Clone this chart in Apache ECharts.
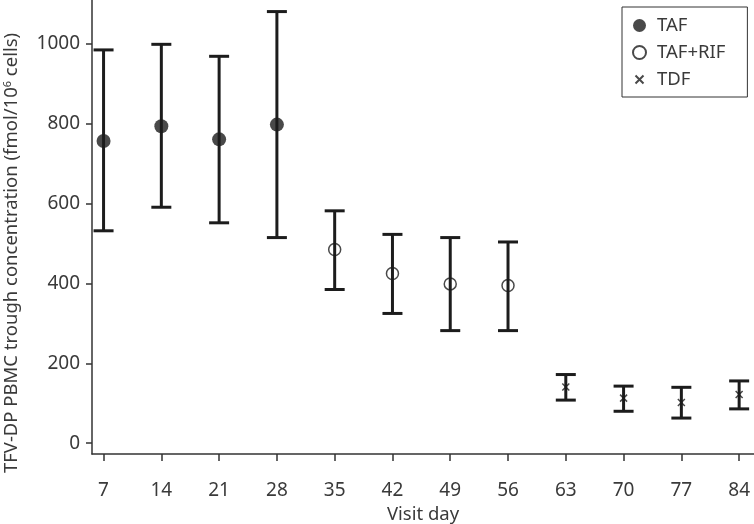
<!DOCTYPE html>
<html>
<head>
<meta charset="utf-8">
<script src="https://cdn.jsdelivr.net/npm/echarts@6/dist/echarts.min.js"></script>
<style>
  html, body { margin: 0; padding: 0; background: #fff; }
  #main { width: 754px; height: 524px; }
</style>
</head>
<body>
<div id="main"></div>
<script>
// visit days + mean / error bar limits for each group
const tafDays = [7, 14, 21, 28];
const tafMean = [757, 794, 761, 798];
const tafLow = [532, 591, 552, 515];
const tafHigh = [985, 999, 969, 1081];

const rifDays = [35, 42, 49, 56];
const rifMean = [485, 425, 399, 395];
const rifLow = [385, 325, 282, 282];
const rifHigh = [582, 523, 515, 504];

const tdfDays = [63, 70, 77, 84];
const tdfMean = [141, 113, 102, 122];
const tdfLow = [108, 80, 63, 86];
const tdfHigh = [172, 143, 140, 156];

const xTicks = [7, 14, 21, 28, 35, 42, 49, 56, 63, 70, 77, 84];
const yTicks = [0, 200, 400, 600, 800, 1000];

const ink = "#1c1c1c";
const textCol = "#3a3a3a";
const font = "Noto Sans";
const crossPath = "path://M4,4L10,10M10,4L4,10";
// same cross, with empty margin so the legend icon stays small
const crossIcon = "path://M0,0M13,13M2.5,2.5L10.5,10.5M10.5,2.5L2.5,10.5";

function pts(days, vals) {
  return days.map((d, i) => [d, vals[i]]);
}
function bars(days, lo, hi) {
  return days.map((d, i) => [d, lo[i], hi[i]]);
}

const errData = []
  .concat(bars(tafDays, tafLow, tafHigh))
  .concat(bars(rifDays, rifLow, rifHigh))
  .concat(bars(tdfDays, tdfLow, tdfHigh));

let myChart = echarts.init(document.getElementById("main"));
myChart.setOption({
  animation: false,
  grid: { left: 92, right: 0, top: 0, bottom: 70, outerBoundsMode: "none", containLabel: false },
  legend: {
    data: [
      { name: "TAF", icon: "circle" },
      { name: "TAF+RIF", icon: "circle" },
      { name: "TDF", icon: crossIcon }
    ],
    orient: "vertical",
    left: 622,
    top: 7,
    padding: [9, 22, 8, 10],
    itemGap: 8,
    itemWidth: 13,
    itemHeight: 13,
    borderColor: "#333",
    borderWidth: 1,
    borderRadius: 0,
    textStyle: { color: textCol, fontSize: 18.5, fontFamily: font, lineHeight: 18, padding: [0, 0, 0, 6] }
  },
  graphic: [{
    type: "text",
    x: 12,
    y: 253,
    rotation: Math.PI / 2,
    style: {
      text: "TFV-DP PBMC trough concentration (fmol/10{sup|6} cells)",
      fontSize: 18.5,
      fontFamily: font,
      fill: textCol,
      align: "center",
      verticalAlign: "middle",
      rich: {
        sup: { fontSize: 11, fontFamily: font, fill: textCol, verticalAlign: "top", padding: [0, 0, 8, 0] }
      }
    }
  }],
  xAxis: {
    type: "value",
    min: 5.6,
    max: 85.8,
    name: "Visit day",
    nameLocation: "middle",
    nameGap: 45,
    nameTextStyle: { color: textCol, fontSize: 18.5, fontFamily: font },
    splitLine: { show: false },
    axisLine: { onZero: false, lineStyle: { color: "#333", width: 1.5 } },
    axisTick: { customValues: xTicks, length: 7, lineStyle: { color: "#333", width: 1.5 } },
    axisLabel: { customValues: xTicks, margin: 27, color: textCol, fontSize: 19, fontFamily: font }
  },
  yAxis: {
    type: "value",
    min: -27,
    max: 1110,
    splitLine: { show: false },
    axisLine: { show: true, onZero: false, lineStyle: { color: "#333", width: 1.5 } },
    axisTick: { show: true, customValues: yTicks, length: 6, lineStyle: { color: "#333", width: 1.5 } },
    axisLabel: {
      customValues: yTicks,
      margin: 12,
      color: textCol,
      fontSize: 19,
      fontFamily: font,
      formatter: function (v) { return String(v); }
    }
  },
  series: [
    {
      name: "errorbars",
      type: "custom",
      data: errData,
      z: 1,
      renderItem: function (params, api) {
        const x = api.value(0);
        const lo = api.coord([x, api.value(1)]);
        const hi = api.coord([x, api.value(2)]);
        const half = 10;
        const st = { stroke: ink, lineWidth: 3 };
        return {
          type: "group",
          children: [
            { type: "line", shape: { x1: lo[0], y1: lo[1], x2: hi[0], y2: hi[1] }, style: st },
            { type: "line", shape: { x1: hi[0] - half, y1: hi[1], x2: hi[0] + half, y2: hi[1] }, style: st },
            { type: "line", shape: { x1: lo[0] - half, y1: lo[1], x2: lo[0] + half, y2: lo[1] }, style: st }
          ]
        };
      }
    },
    {
      name: "TAF",
      type: "scatter",
      data: pts(tafDays, tafMean),
      symbol: "circle",
      symbolSize: 14,
      z: 3,
      itemStyle: { color: ink }
    },
    {
      name: "TAF+RIF",
      type: "scatter",
      data: pts(rifDays, rifMean),
      symbol: "circle",
      symbolSize: 12,
      z: 3,
      itemStyle: { color: "rgba(255,255,255,0)", borderColor: ink, borderWidth: 1.5 }
    },
    {
      name: "TDF",
      type: "scatter",
      data: pts(tdfDays, tdfMean),
      symbol: crossPath,
      symbolSize: 7,
      z: 3,
      itemStyle: { color: "rgba(255,255,255,0)", borderColor: ink, borderWidth: 1.5 }
    }
  ]
});
</script>
</body>
</html>
